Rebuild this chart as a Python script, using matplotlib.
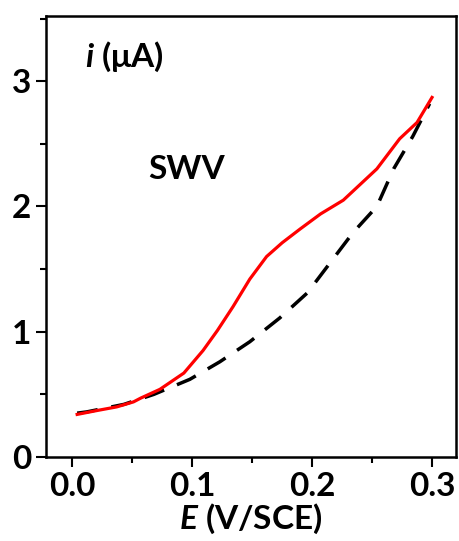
import matplotlib.pyplot as plt
from matplotlib.ticker import MultipleLocator

plt.rcParams['font.family'] = ['Lato', 'DejaVu Sans']
plt.rcParams['mathtext.fontset'] = 'custom'
plt.rcParams['mathtext.it'] = 'Lato:italic:bold'
plt.rcParams['mathtext.rm'] = 'Lato:bold'

# SWV curves
e_red = [0.004, 0.02, 0.037, 0.051, 0.057, 0.073, 0.093, 0.109, 0.121, 0.134, 0.148,
         0.162, 0.175, 0.190, 0.207, 0.226, 0.254, 0.273, 0.2875, 0.300]
i_red = [0.34, 0.37, 0.40, 0.44, 0.47, 0.54, 0.67, 0.85, 1.01, 1.20, 1.42,
         1.60, 1.71, 1.82, 1.94, 2.05, 2.30, 2.54, 2.67, 2.87]

e_blk = [0.004, 0.012, 0.043, 0.068, 0.098, 0.123, 0.148, 0.173, 0.196, 0.215,
         0.234, 0.254, 0.268, 0.284, 0.298]
i_blk = [0.35, 0.36, 0.42, 0.50, 0.62, 0.76, 0.92, 1.11, 1.31, 1.55,
         1.79, 2.00, 2.30, 2.56, 2.82]

fig = plt.figure(figsize=(4.6, 5.41), dpi=100)
ax = fig.add_axes([46/460, 1 - 457/541, 410/460, 441/541])

ax.plot(e_blk, i_blk, color='black', lw=2.5, dashes=(6, 4))
ax.plot(e_red, i_red, color='red', lw=2.3)

ax.set_xlim(-0.022, 0.32)
ax.set_ylim(0, 3.52)
ax.xaxis.set_major_locator(MultipleLocator(0.1))
ax.xaxis.set_minor_locator(MultipleLocator(0.05))
ax.yaxis.set_major_locator(MultipleLocator(1))
ax.yaxis.set_minor_locator(MultipleLocator(0.5))
ax.set_xticks([0.0, 0.1, 0.2, 0.3])
ax.set_xticklabels(['0.0', '0.1', '0.2', '0.3'])
ax.tick_params(which='major', length=7, width=1.5, labelsize=24)
ax.tick_params(which='minor', length=4, width=1.5)
for lab in ax.get_xticklabels() + ax.get_yticklabels():
    lab.set_fontweight('bold')
for sp in ax.spines.values():
    sp.set_linewidth(1.8)

ax.set_xlabel('$E$ (V/SCE)', fontsize=24, fontweight='bold', labelpad=1)
ax.text(0.095, 0.885, '$i$ (μA)', transform=ax.transAxes,
        fontsize=24, fontweight='bold')
ax.text(0.25, 0.63, 'SWV', transform=ax.transAxes, fontsize=24, fontweight='bold')

fig.savefig('out.png', dpi=100)
